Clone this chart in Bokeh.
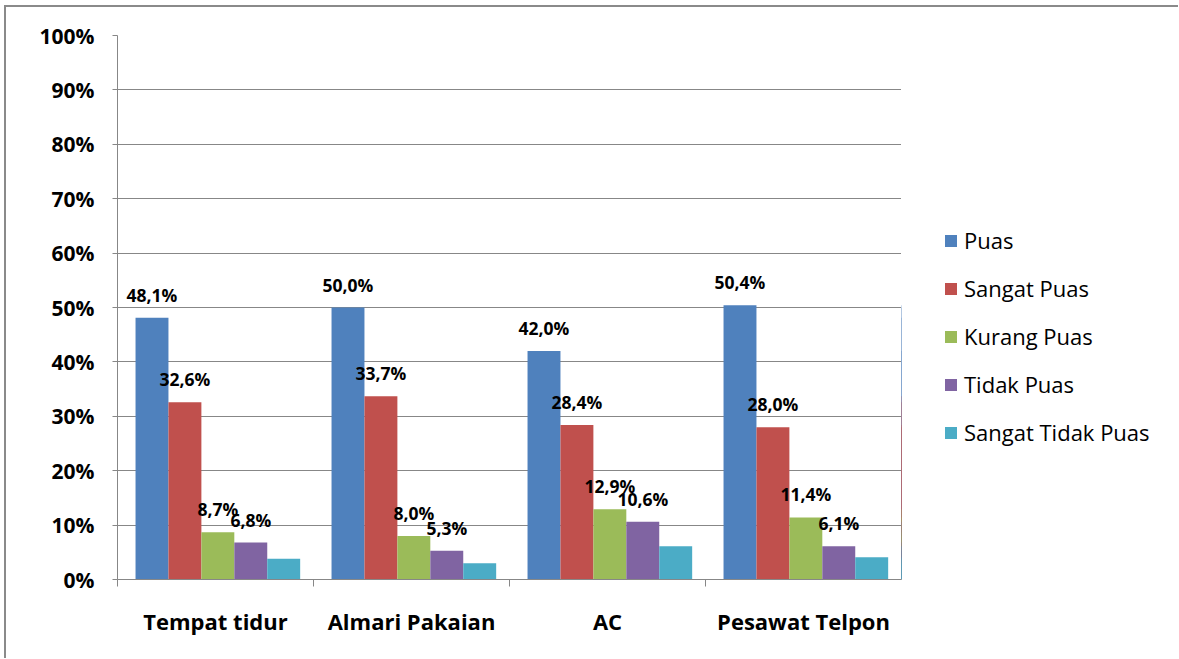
from bokeh.plotting import figure
from bokeh.layouts import row
from bokeh.models import (ColumnDataSource, Range1d, FixedTicker, NumeralTickFormatter,
                          Legend, LegendItem, LabelSet)
from bokeh.transform import dodge
from bokeh.core.properties import value
from bokeh.embed import file_html
from bokeh.resources import INLINE

categories = ["Tempat tidur", "Almari Pakaian", "AC", "Pesawat Telpon"]
series = ["Puas", "Sangat Puas", "Kurang Puas", "Tidak Puas", "Sangat Tidak Puas"]
puas = [48.1, 50.0, 42.0, 50.4]
sangat_puas = [32.6, 33.7, 28.4, 28.0]
kurang_puas = [8.7, 8.0, 12.9, 11.4]
tidak_puas = [6.8, 5.3, 10.6, 6.1]
sangat_tidak_puas = [3.8, 3.0, 6.1, 4.1]
colors = ["#4F81BD", "#C0504D", "#9BBB59", "#8064A2", "#4BACC6"]
show_labels = [True, True, True, True, False]
y_ticks = [0.0, 0.1, 0.2, 0.3, 0.4, 0.5, 0.6, 0.7, 0.8, 0.9, 1.0]

all_values = [puas, sangat_puas, kurang_puas, tidak_puas, sangat_tidak_puas]

GRAY = "#878787"
FONT = "Open Sans"

p = figure(width=895, height=651, output_backend="svg", toolbar_location=None,
           x_range=Range1d(0, 4), y_range=Range1d(0, 1),
           min_border_left=111, min_border_right=0, min_border_top=28,
           min_border_bottom=79)
p.outline_line_color = None
p.background_fill_color = "white"
p.border_fill_color = "white"

centers = [i + 0.5 for i in range(len(categories))]
bw = 0.168
shift = 0.012
sources = []
for j, (name, vals, col) in enumerate(zip(series, all_values, colors)):
    src = ColumnDataSource(dict(x=centers, y=[v / 100 for v in vals],
                                lab=[f"{v:.1f}%".replace(".", ",") for v in vals]))
    sources.append(src)
    off = (j - 2) * bw + shift
    p.vbar(x=dodge("x", off), top="y", width=bw, source=src,
           fill_color=col, line_color=None)
    if show_labels[j]:
        ls = LabelSet(x=dodge("x", off), y="y", text="lab", source=src,
                      text_align="center", text_baseline="middle", y_offset=23,
                      text_font=value(FONT), text_font_style="bold",
                      text_font_size="17.5px", text_color="black")
        p.add_layout(ls)

# y axis
p.yaxis.ticker = FixedTicker(ticks=y_ticks)
p.yaxis.formatter = NumeralTickFormatter(format="0%")
p.yaxis.axis_line_color = GRAY
p.yaxis.major_tick_line_color = GRAY
p.yaxis.major_tick_in = 0
p.yaxis.major_tick_out = 5
p.yaxis.minor_tick_line_color = None
p.yaxis.major_label_standoff = 18
p.yaxis.major_label_text_font = FONT
p.yaxis.major_label_text_font_style = "bold"
p.yaxis.major_label_text_font_size = "21px"
p.yaxis.major_label_text_color = "black"

# x axis: labels at centers, ticks at boundaries
p.xaxis.ticker = FixedTicker(ticks=centers, minor_ticks=[0, 1, 2, 3, 4])
p.xaxis.major_label_overrides = {c: name for c, name in zip(centers, categories)}
p.xaxis.axis_line_color = GRAY
p.xaxis.major_tick_line_color = None
p.xaxis.major_tick_in = 0
p.xaxis.major_tick_out = 0
p.xaxis.minor_tick_line_color = GRAY
p.xaxis.minor_tick_in = 0
p.xaxis.minor_tick_out = 7
p.xaxis.major_label_standoff = 19
p.xaxis.major_label_text_font = FONT
p.xaxis.major_label_text_font_style = "bold"
p.xaxis.major_label_text_font_size = "22px"
p.xaxis.major_label_text_color = "black"

p.xgrid.grid_line_color = None
p.ygrid.ticker = FixedTicker(ticks=y_ticks)
p.ygrid.grid_line_color = GRAY
p.ygrid.grid_line_width = 1

# legend panel (series drawn out of view, used only as legend proxies)
lp = figure(width=277, height=651, output_backend="svg", toolbar_location=None,
            x_range=Range1d(100, 101), y_range=Range1d(0, 1),
            x_axis_location=None, y_axis_location=None,
            min_border_left=0, min_border_right=0, min_border_top=0,
            min_border_bottom=0)
lp.outline_line_color = None
lp.xgrid.grid_line_color = None
lp.ygrid.grid_line_color = None
items = []
for name, col, src in zip(series, colors, sources):
    r = lp.vbar(x="x", top="y", width=bw, source=src, fill_color=col, line_color=None)
    items.append(LegendItem(label=name, renderers=[r]))

legend = Legend(items=items, location=(42, 132), orientation="vertical",
                border_line_color=None, background_fill_alpha=0,
                padding=0, margin=0, spacing=18,
                glyph_width=15, glyph_height=15, label_height=22,
                label_standoff=6, label_text_font=FONT,
                label_text_font_size="22px", label_text_color="black")
lp.add_layout(legend, "center")

layout = row(p, lp, spacing=0)
layout.styles = {"margin-left": "4px", "margin-top": "5px",
                 "border-left": "2px solid #8a8a8a", "border-top": "2px solid #8a8a8a"}

open("out.html", "w").write(file_html(layout, INLINE))
